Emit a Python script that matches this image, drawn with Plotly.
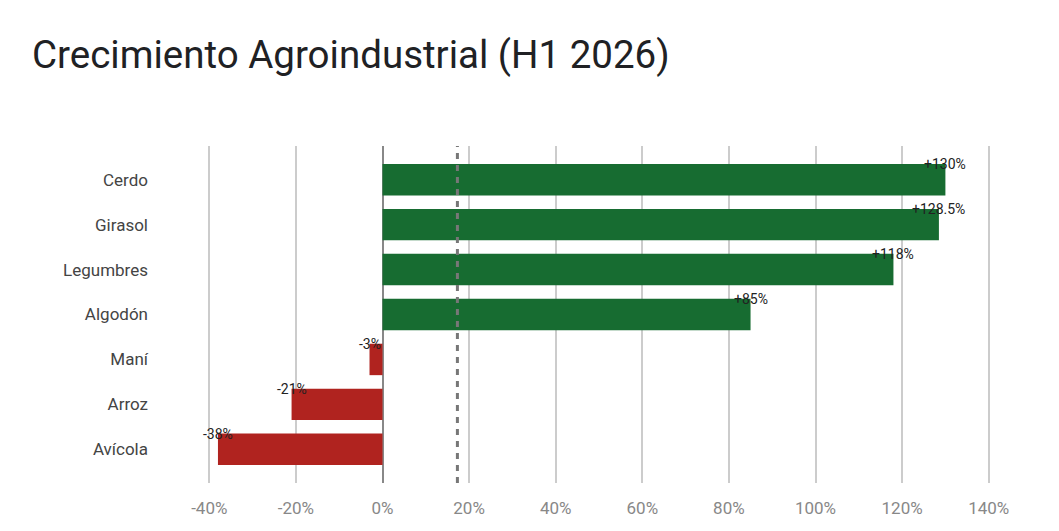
import plotly.graph_objects as go

categories = ["Cerdo", "Girasol", "Legumbres", "Algodón", "Maní", "Arroz", "Avícola"]
growth = [130, 128.5, 118, 85, -3, -21, -38]
reference_line = 17.3
x_ticks = [-40, -20, 0, 20, 40, 60, 80, 100, 120, 140]
title_text = "Crecimiento Agroindustrial (H1 2026)"

GREEN = "#176c31"
RED = "#b0231f"

def fmt(v):
    s = f"{v:g}"
    return ("+" + s if v > 0 else s) + "%"

colors = [GREEN if v >= 0 else RED for v in growth]

fig = go.Figure()
fig.add_trace(go.Bar(
    x=growth, y=categories, orientation="h",
    marker=dict(color=colors, line=dict(width=0)),
    width=0.7, hoverinfo="skip",
))

for c, v in zip(categories, growth):
    fig.add_annotation(
        x=v, y=c, text=fmt(v), showarrow=False,
        xanchor="center", yanchor="middle", yshift=15.5,
        font=dict(family="Roboto", size=14, color="#222222"),
    )

fig.add_shape(
    type="line", xref="x", yref="paper",
    x0=reference_line, x1=reference_line, y0=0, y1=1,
    line=dict(color="#777777", width=3, dash="6px,6px"),
    layer="above",
)

fig.update_layout(
    width=1059, height=531,
    paper_bgcolor="white", plot_bgcolor="white",
    margin=dict(l=207.7, r=68.7, t=146, b=48),
    showlegend=False,
    title=dict(
        text=title_text, xref="container", yref="container",
        x=32 / 1059, xanchor="left", y=1 - 55 / 531, yanchor="middle",
        font=dict(family="Roboto", size=38.5, color="#202124"),
    ),
    bargap=0.3,
)

fig.update_xaxes(
    range=[-40.3, 140.3], tickvals=x_ticks, ticktext=[f"{t}%" for t in x_ticks],
    showgrid=True, gridcolor="#cccccc", gridwidth=1.5,
    zeroline=True, zerolinecolor="#888888", zerolinewidth=1.5,
    showline=False, ticks="",
    tickfont=dict(family="Roboto", size=17, color="#888888"),
    ticklabelstandoff=13,
)
fig.update_yaxes(
    categoryorder="array", categoryarray=categories,
    range=[6.75, -0.75],
    showgrid=False, zeroline=False, showline=False, ticks="",
    tickfont=dict(family="Roboto", size=17, color="#444444"),
    ticklabelstandoff=59,
)

fig.write_html("out.html")
